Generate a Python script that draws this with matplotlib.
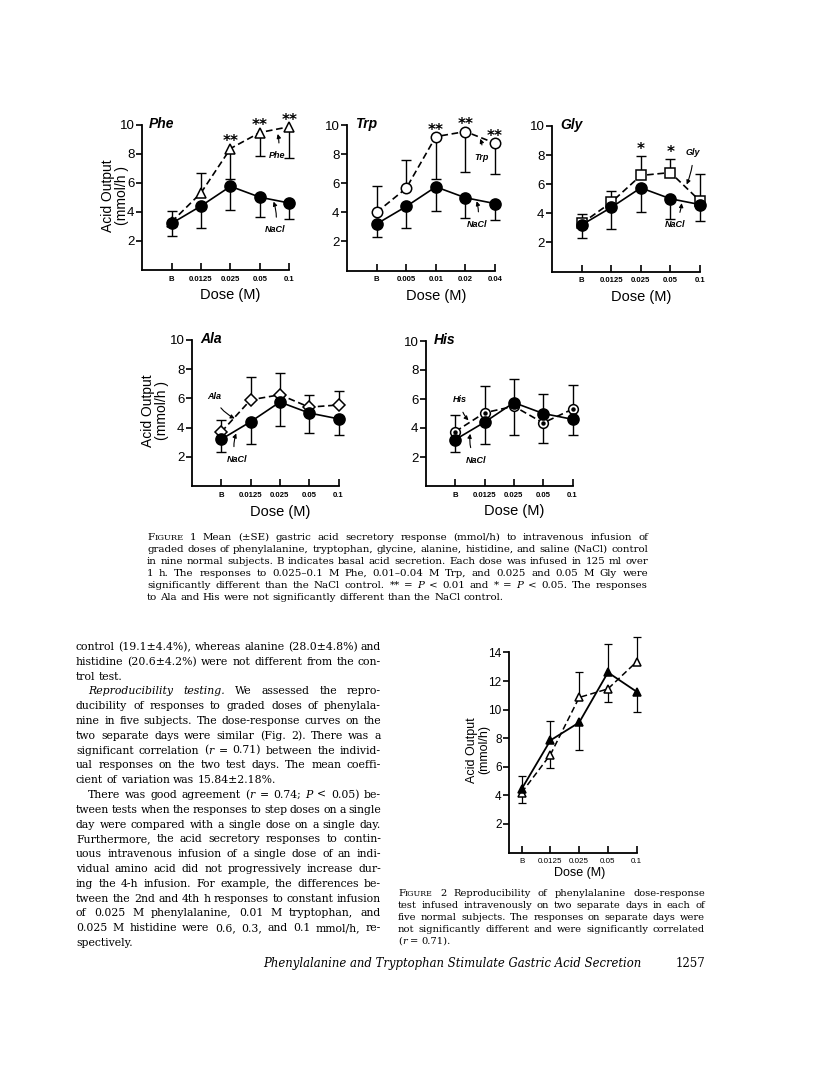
import matplotlib
matplotlib.use('Agg')
import matplotlib.pyplot as plt
import warnings
warnings.filterwarnings('ignore')

W, H = 816, 1081
fig = plt.figure(figsize=(W / 100, H / 100), dpi=100)
fig.patch.set_facecolor('white')

SANS = ['Liberation Sans Narrow', 'Liberation Sans', 'DejaVu Sans']
SERIF = ['DejaVu Serif', 'Liberation Serif']

# ---------------- data (Figure 1) ----------------
doses_std = ['B', '0.0125', '0.025', '0.05', '0.1']
doses_trp = ['B', '0.005', '0.01', '0.02', '0.04']

nacl_mean = [3.2, 4.4, 5.75, 5.0, 4.6]
nacl_se = [0.87, 1.5, 1.65, 1.37, 1.1]

phe_mean = [3.3, 5.3, 8.35, 9.45, 9.85]
phe_err_lo = [0, 0, 2.13, 1.62, 2.17]
phe_err_hi = [0.73, 1.37, 0, 0, 0]
phe_sig = ['', '', '**', '**', '**']

trp_mean = [4.0, 5.65, 9.2, 9.55, 8.75]
trp_err_lo = [0, 0, 2.9, 2.8, 2.1]
trp_err_hi = [1.8, 1.95, 0, 0, 0]
trp_sig = ['', '', '**', '**', '**']

gly_mean = [3.3, 4.75, 6.6, 6.8, 4.85]
gly_err_lo = [0, 0, 0, 0, 0]
gly_err_hi = [0.65, 0.75, 1.35, 0.9, 1.85]
gly_sig = ['', '', '*', '*', '']

ala_mean = [3.7, 5.9, 6.25, 5.4, 5.55]
ala_err_lo = [0, 0, 0, 0, 0]
ala_err_hi = [0.8, 1.6, 1.5, 0.85, 0.95]
ala_sig = ['', '', '', '', '']

his_mean = [3.75, 5.05, 5.5, 4.35, 5.3]
his_err_lo = [0, 0, 1.95, 1.35, 0]
his_err_hi = [1.15, 1.85, 0, 0, 1.7]
his_sig = ['', '', '', '', '']
# which side of the NaCl error bar is drawn in the His panel (1 = down, 0 = up)
his_nacl_down = [1, 1, 0, 0, 1]

# ---------------- data (Figure 2) ----------------
fig2_doses = ['B', '0.0125', '0.025', '0.05', '0.1']
day1_mean = [4.45, 7.85, 9.1, 12.6, 11.25]
day1_err_lo = [0, 0, 1.95, 0, 1.4]
day1_err_hi = [0.9, 1.37, 0, 2.0, 0]
day2_mean = [4.2, 6.85, 10.85, 11.45, 13.35]
day2_err_lo = [0.7, 0.92, 0, 0.92, 0]
day2_err_hi = [0, 0, 1.75, 0, 1.75]


def make_axes(left, top, right, bottom):
    return fig.add_axes([left / W, 1 - bottom / H, (right - left) / W, (bottom - top) / H])


def style_axes(ax, labels, xlim, ylim, yticks, ytop, fs_y=9.5, fs_x=5.6, xbold=True):
    ax.set_xlim(*xlim)
    ax.set_ylim(*ylim)
    for s in ['top', 'right']:
        ax.spines[s].set_visible(False)
    ax.spines['left'].set_bounds(0, ytop)
    for s in ['left', 'bottom']:
        ax.spines[s].set_linewidth(1.3)
    ax.set_yticks(yticks)
    ax.set_yticklabels([str(t) for t in yticks], fontsize=fs_y, family=SANS)
    ax.set_xticks(range(len(labels)))
    ax.set_xticklabels(labels, fontsize=fs_x, family=SANS,
                       fontweight='bold' if xbold else 'normal')
    ax.tick_params(axis='y', direction='out', length=4, width=1.2, pad=1.5)
    ax.tick_params(axis='x', direction='in', length=5, width=1.2, pad=4)
    ax.patch.set_alpha(0)


def draw_err(ax, mean, lo, hi, cap=7, lw=1.0, z=2):
    x = range(len(mean))
    ends_x, ends_y = [], []
    for xi, m, l, h in zip(x, mean, lo, hi):
        if l > 0:
            ax.vlines(xi, m - l, m, color='k', lw=lw, zorder=z, clip_on=False)
            ends_x.append(xi)
            ends_y.append(m - l)
        if h > 0:
            ax.vlines(xi, m, m + h, color='k', lw=lw, zorder=z, clip_on=False)
            ends_x.append(xi)
            ends_y.append(m + h)
    ax.plot(ends_x, ends_y, ls='none', marker='_', ms=cap, mew=lw, color='k',
            clip_on=False, zorder=z)


def draw_series(ax, mean, marker, ms, filled, dashed, z, dot=False, lw=1.2):
    x = list(range(len(mean)))
    ax.plot(x, mean, color='k', lw=lw, ls=(0, (4, 2.2)) if dashed else '-',
            marker=marker, ms=ms, mfc='k' if filled else 'white', mec='k',
            mew=1.1, clip_on=False, zorder=z)
    if dot:
        ax.plot(x, mean, ls='none', marker='o', ms=2.2, color='k', clip_on=False,
                zorder=z + 0.1)


def label_arrow(ax, text, xy, xytext, rad=0.2):
    ax.annotate(text, xy=xy, xytext=xytext, fontsize=6.5, style='italic',
                fontweight='bold', family=SANS, ha='center', va='center',
                arrowprops=dict(arrowstyle='-|>', lw=0.8, color='k', mutation_scale=6,
                                connectionstyle=f'arc3,rad={rad}', shrinkA=4, shrinkB=0),
                annotation_clip=False)


panels = [
    # name, box(left, top, right, bottom), labels, mean, lo, hi, sig, marker, ms, dot, ylabel offset
    ('Phe', (142, 124.5, 289.5, 270), doses_std, phe_mean, phe_err_lo, phe_err_hi, phe_sig, '^', 7.5, False, 27),
    ('Trp', (347, 125, 495, 270.5), doses_trp, trp_mean, trp_err_lo, trp_err_hi, trp_sig, 'o', 7.5, False, None),
    ('Gly', (552, 126, 700, 271.5), doses_std, gly_mean, gly_err_lo, gly_err_hi, gly_sig, 's', 7.0, False, None),
    ('Ala', (192, 340, 338.5, 486), doses_std, ala_mean, ala_err_lo, ala_err_hi, ala_sig, 'D', 6.5, False, 37),
    ('His', (426, 341, 572.5, 486), doses_std, his_mean, his_err_lo, his_err_hi, his_sig, 'o', 7.0, True, None),
]

axes = {}
for name, box, labels, mean, lo, hi, sig, mk, ms, dot, ylab in panels:
    ax = make_axes(*box)
    axes[name] = ax
    style_axes(ax, labels, (-1, 4), (0, 10), [2, 4, 6, 8, 10], 10)
    if name == 'His':
        n_lo = [s if d else 0 for s, d in zip(nacl_se, his_nacl_down)]
        n_hi = [0 if d else s for s, d in zip(nacl_se, his_nacl_down)]
    else:
        n_lo = nacl_se
        n_hi = [0] * len(nacl_se)
    draw_err(ax, nacl_mean, n_lo, n_hi)
    draw_err(ax, mean, lo, hi)
    draw_series(ax, mean, mk, ms, False, True, 3, dot=dot)
    draw_series(ax, nacl_mean, 'o', 8, True, False, 4)
    for i, s in enumerate(sig):
        if s:
            top = mean[i] + hi[i]
            ax.text(i, top + 0.45, s, ha='center', va='center', fontsize=11,
                    fontweight='bold', family='DejaVu Sans', clip_on=False)
    ax.text(-0.35, 10.05, name, fontsize=10, style='italic', fontweight='bold',
            family=SANS, ha='center', va='center', clip_on=False)
    ax.text(2, -1.75, 'Dose (M)', fontsize=10.5, family=SANS, ha='center', va='center',
            clip_on=False)
    if ylab:
        l, t, r, b = box
        fig.text((l - ylab) / W, 1 - ((t + b) / 2 - 2) / H, 'Acid Output\n(mmol/h )',
                 rotation=90, fontsize=10, family=SANS, ha='center', va='center',
                 linespacing=1.0)

label_arrow(axes['Phe'], 'Phe', (3.6, 9.35), (3.57, 7.85), rad=0.15)
label_arrow(axes['Phe'], 'NaCl', (3.46, 4.7), (3.5, 2.75), rad=0.15)
label_arrow(axes['Trp'], 'Trp', (3.5, 9.05), (3.55, 7.75), rad=0.15)
label_arrow(axes['Trp'], 'NaCl', (3.38, 4.76), (3.38, 3.15), rad=0.15)
label_arrow(axes['Gly'], 'Gly', (3.55, 5.98), (3.77, 8.17), rad=-0.1)
label_arrow(axes['Gly'], 'NaCl', (3.38, 4.7), (3.15, 3.2), rad=0.1)
label_arrow(axes['Ala'], 'Ala', (0.46, 4.63), (-0.25, 6.16), rad=0.2)
label_arrow(axes['Ala'], 'NaCl', (0.51, 3.6), (0.53, 1.82), rad=-0.2)
label_arrow(axes['His'], 'His', (0.45, 4.53), (0.17, 5.95), rad=0.2)
label_arrow(axes['His'], 'NaCl', (0.51, 3.6), (0.72, 1.78), rad=-0.2)

# ---------------- Figure 2 ----------------
ax2 = make_axes(509.3, 652.4, 636.7, 852.6)
style_axes(ax2, fig2_doses, (-0.43, 4), (0, 14), [2, 4, 6, 8, 10, 12, 14], 14,
           fs_y=8.5, fs_x=5.8, xbold=False)
draw_err(ax2, day1_mean, day1_err_lo, day1_err_hi, cap=6, lw=0.9)
draw_err(ax2, day2_mean, day2_err_lo, day2_err_hi, cap=6, lw=0.9)
draw_series(ax2, day2_mean, '^', 5.5, False, True, 3, lw=1.1)
draw_series(ax2, day1_mean, '^', 5.5, True, False, 4, lw=1.3)
ax2.text(2, -1.45, 'Dose (M)', fontsize=9, family=SANS, ha='center', va='center', clip_on=False)
fig.text(478 / W, 1 - 750 / H, 'Acid Output\n(mmol/h)', rotation=90, fontsize=9,
         family=SANS, ha='center', va='center', linespacing=1.0)

# ---------------- page text ----------------
renderer = fig.canvas.get_renderer()
_cache = {}


def measure(s, size, style):
    key = (s, round(size, 3), style)
    if key not in _cache:
        t = fig.text(0, 0, s, fontsize=size, style=style, family=SERIF)
        _cache[key] = t.get_window_extent(renderer).width
        t.remove()
    return _cache[key]


def pieces_of(word, size):
    out = []
    for p in word.split('|'):
        if p.startswith('_'):
            out.append((p[1:], size, 'italic'))
        elif p.startswith('^'):
            out.append((p[1:], size * 0.8, 'normal'))
        else:
            out.append((p, size, 'normal'))
    return out


def natural(line, size):
    words = line.split()
    widths = [sum(measure(t, s, st) for t, s, st in pieces_of(w, size)) for w in words]
    space = measure('a a', size, 'normal') - measure('aa', size, 'normal')
    return sum(widths) + space * (len(words) - 1)


def fit_size(lines, x0, x1, size0=8.0):
    ratios = sorted(natural(ln, size0) / (x1 - x0 - ind) for ln, just, ind in lines if just)
    med = ratios[len(ratios) // 2]
    return size0 * 0.96 / med


def text_line(line, x0, x1, y, size, justify=True, indent=0):
    words = line.split()
    while True:
        wp = [pieces_of(w, size) for w in words]
        widths = [sum(measure(t, s, st) for t, s, st in p) for p in wp]
        space = measure('a a', size, 'normal') - measure('aa', size, 'normal')
        avail = x1 - (x0 + indent)
        total = sum(widths)
        if justify and len(words) > 1:
            gap = (avail - total) / (len(words) - 1)
        else:
            gap = space
        if justify and gap < 0.6 * space:
            size *= 0.985
            continue
        break
    x = x0 + indent
    for p, w in zip(wp, widths):
        xx = x
        for t, s, st in p:
            fig.text(xx / W, 1 - y / H, t, fontsize=s, style=st, family=SERIF,
                     ha='left', va='baseline')
            xx += measure(t, s, st)
        x += w + gap


def text_block(lines, x0, x1, y0, dy):
    size = fit_size(lines, x0, x1)
    for i, (ln, just, ind) in enumerate(lines):
        text_line(ln, x0, x1, y0 + dy * i, size, justify=just, indent=ind)


caption1 = [
    ('F|^IGURE 1  Mean (±SE) gastric acid secretory response (mmol/h) to intravenous infusion of', True, 0),
    ('graded doses of phenylalanine, tryptophan, glycine, alanine, histidine, and saline (NaCl) control', True, 0),
    ('in nine normal subjects. B indicates basal acid secretion. Each dose was infused in 125 ml over', True, 0),
    ('1 h. The responses to 0.025–0.1 M Phe, 0.01–0.04 M Trp, and 0.025 and 0.05 M Gly were', True, 0),
    ('significantly different than the NaCl control. ** = _P < 0.01 and * = _P < 0.05. The responses', True, 0),
    ('to Ala and His were not significantly different than the NaCl control.', False, 0),
]
text_block(caption1, 147, 648, 540, 12.0)

body = [
    ('control (19.1±4.4%), whereas alanine (28.0±4.8%) and', True, 0),
    ('histidine (20.6±4.2%) were not different from the con-', True, 0),
    ('trol test.', False, 0),
    ('_Reproducibility _testing.  We assessed the repro-', True, 12),
    ('ducibility of responses to graded doses of phenylala-', True, 0),
    ('nine in five subjects. The dose-response curves on the', True, 0),
    ('two separate days were similar (Fig. 2). There was a', True, 0),
    ('significant correlation (|_r = 0.71) between the individ-', True, 0),
    ('ual responses on the two test days. The mean coeffi-', True, 0),
    ('cient of variation was 15.84±2.18%.', False, 0),
    ('There was good agreement (|_r = 0.74; _P < 0.05) be-', True, 12),
    ('tween tests when the responses to step doses on a single', True, 0),
    ('day were compared with a single dose on a single day.', True, 0),
    ('Furthermore, the acid secretory responses to contin-', True, 0),
    ('uous intravenous infusion of a single dose of an indi-', True, 0),
    ('vidual amino acid did not progressively increase dur-', True, 0),
    ('ing the 4-h infusion. For example, the differences be-', True, 0),
    ('tween the 2nd and 4th h responses to constant infusion', True, 0),
    ('of 0.025 M phenylalanine, 0.01 M tryptophan, and', True, 0),
    ('0.025 M histidine were 0.6, 0.3, and 0.1 mmol/h, re-', True, 0),
    ('spectively.', False, 0),
]
text_block(body, 76, 381, 650, 14.8)

caption2 = [
    ('F|^IGURE 2  Reproducibility of phenylalanine dose-response', True, 0),
    ('test infused intravenously on two separate days in each of', True, 0),
    ('five normal subjects. The responses on separate days were', True, 0),
    ('not significantly different and were significantly correlated', True, 0),
    ('(|_r = 0.71).', False, 0),
]
text_block(caption2, 398, 705, 896, 12.0)

foot = 'Phenylalanine and Tryptophan Stimulate Gastric Acid Secretion'
t = fig.text(0, 0, foot, fontsize=10, style='italic', family=SERIF)
fw = t.get_window_extent(renderer).width
t.remove()
fig.text(263 / W, 1 - 967 / H, foot, fontsize=10 * 378 / fw, style='italic',
         family=SERIF, ha='left', va='baseline')
fig.text(705 / W, 1 - 967 / H, '1257', fontsize=8.5, family=SERIF, ha='right',
         va='baseline')

fig.savefig('out.png', dpi=100, facecolor='white')
